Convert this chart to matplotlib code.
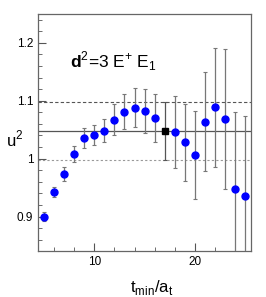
import matplotlib
matplotlib.use("Agg")
import matplotlib.pyplot as plt
from matplotlib.ticker import MultipleLocator, FixedFormatter, FixedLocator

plt.rcParams["font.family"] = ["Liberation Sans", "DejaVu Sans"]
plt.rcParams["mathtext.fontset"] = "custom"
plt.rcParams["mathtext.rm"] = "Liberation Sans"
plt.rcParams["mathtext.bf"] = "Liberation Sans:bold"

# fit results vs t_min
tmin = [5, 6, 7, 8, 9, 10, 11, 12, 13, 14, 15, 16, 18, 19, 20, 21, 22, 23, 24, 25]
u2 = [0.900, 0.942, 0.974, 1.008, 1.036, 1.041, 1.048, 1.067, 1.081, 1.088,
      1.082, 1.070, 1.046, 1.028, 1.006, 1.064, 1.089, 1.068, 0.947, 0.935]
u2_err = [0.008, 0.009, 0.012, 0.013, 0.017, 0.018, 0.020, 0.027, 0.030, 0.034,
          0.038, 0.041, 0.062, 0.067, 0.076, 0.085, 0.103, 0.121, 0.133, 0.138]

# chosen fit
chosen_t = [17]
chosen_u2 = [1.048]
chosen_err = [0.050]

fig = plt.figure(figsize=(2.66, 2.97), dpi=100)
ax = fig.add_axes([0.143, 0.156, 0.801, 0.797])

ax.axhline(chosen_u2[0], color="#555555", lw=0.9, zorder=1)
ax.axhline(chosen_u2[0] + chosen_err[0], color="#555555", lw=0.8, ls=(0, (3, 2)), zorder=1)
ax.axhline(chosen_u2[0] - chosen_err[0], color="#999999", lw=0.8, ls=(0, (2, 2)), zorder=1)

ax.errorbar(tmin, u2, yerr=u2_err, fmt="o", color="blue", ms=5, mec="blue",
            ecolor="#777777", elinewidth=0.9, capsize=1.5, capthick=0.8, zorder=3)
ax.errorbar(chosen_t, chosen_u2, yerr=chosen_err, fmt="s", color="black", ms=4.5,
            ecolor="#555555", elinewidth=0.9, capsize=1.5, capthick=0.8, zorder=3)

ax.set_xlim(4.4, 25.6)
ax.set_ylim(0.841, 1.25)

ax.xaxis.set_major_locator(FixedLocator([10, 20]))
ax.xaxis.set_minor_locator(MultipleLocator(2))
ax.yaxis.set_major_locator(FixedLocator([0.9, 1.0, 1.1, 1.2]))
ax.yaxis.set_major_formatter(FixedFormatter(["0.9", "1", "1.1", "1.2"]))
ax.yaxis.set_minor_locator(MultipleLocator(0.02))
ax.tick_params(which="both", direction="in", top=False, right=False,
               color="#555555", labelsize=8.5, pad=3.5)
ax.tick_params(which="major", length=6)
ax.tick_params(which="minor", length=3)
for s in ax.spines.values():
    s.set_color("#666666")
    s.set_linewidth(0.9)

ax.text(0.15, 0.80, r"$\mathbf{d}^2$=3 E$^{+}$ E$_1$", transform=ax.transAxes,
        fontsize=12.5, ha="left", va="center")

ax.set_xlabel(r"t$_{\mathrm{min}}$/a$_{\mathrm{t}}$", fontsize=12)
ax.xaxis.set_label_coords(0.535, -0.115)
ax.set_ylabel(r"u$^2$", fontsize=12, rotation=0, ha="center", va="center")
ax.yaxis.set_label_coords(-0.11, 0.47)

fig.savefig("out.png", dpi=100)
